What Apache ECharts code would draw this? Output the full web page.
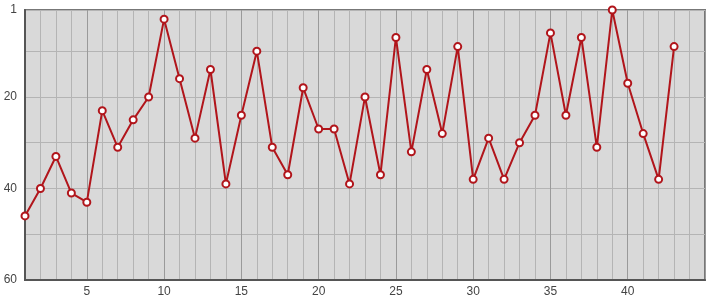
<!DOCTYPE html>
<html><head><meta charset="utf-8">
<script src="https://cdn.jsdelivr.net/npm/echarts@6/dist/echarts.min.js"></script>
<style>html,body{margin:0;padding:0;background:#fff}#c{width:715px;height:300px}</style>
</head><body><div id="c"></div>
<script>
var xValues = [1,2,3,4,5,6,7,8,9,10,11,12,13,14,15,16,17,18,19,20,21,22,23,24,25,26,27,28,29,30,31,32,33,34,35,36,37,38,39,40,41,42,43];
var yValues = [46,40,33,41,43,23,31,25,20,3,16,29,14,39,24,10,31,37,18,27,27,39,20,37,7,32,14,28,9,38,29,38,30,24,6,24,7,31,1,17,28,38,9];
var xTickLabels = [5,10,15,20,25,30,35,40];
var yTickLabels = [1,20,40,60];
var xGridValues = [];
for (var i = 1; i <= 45; i++) xGridValues.push(i);
var yGridValues = [1,10,20,30,40,50,60];

var chart = echarts.init(document.getElementById('c'), null, {renderer:'canvas'});
var light = '#b4b4b4', dark = '#9a9a9a';
chart.setOption({
  animation:false,
  textStyle:{fontFamily:'Liberation Sans, Arial, sans-serif'},
  grid:{left:25,right:10,top:10,bottom:20,show:true,backgroundColor:'#d9d9d9',borderColor:'#777',borderWidth:2},
  xAxis:{type:'value',min:1,max:45,
    axisLine:{show:true,onZero:false,lineStyle:{color:'#555',width:2}},
    axisTick:{show:false,customValues:xGridValues},
    axisLabel:{customValues:xTickLabels,color:'#444',fontSize:12,margin:6},
    splitLine:{show:true,lineStyle:{color:[light,light,light,light,dark],width:1}}
  },
  yAxis:{type:'value',inverse:true,min:1,max:60,
    axisLine:{show:true,onZero:false,lineStyle:{color:'#555',width:2}},
    axisTick:{show:false,customValues:yGridValues},
    axisLabel:{customValues:yTickLabels,color:'#444',fontSize:12,margin:8},
    splitLine:{show:true,lineStyle:{color:light,width:1}}
  },
  series:[{type:'line',data:xValues.map(function(x,i){return [x,yValues[i]];}),
    symbol:'emptyCircle',symbolSize:7,
    lineStyle:{color:'#b1151b',width:2},
    itemStyle:{color:'#b1151b',borderWidth:2,borderColor:'#b1151b'}
  }]
});
</script></body></html>
